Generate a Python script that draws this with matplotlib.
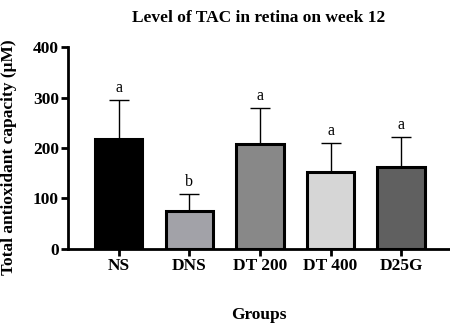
import matplotlib
matplotlib.use("Agg")
import matplotlib.pyplot as plt
import numpy as np


GROUPS = ["NS", "DNS", "DT 200", "DT 400", "D25G"]
MEANS = [218, 76, 208, 152, 163]
SD_UP = [77, 33, 71, 57, 59]
LETTERS = ["a", "b", "a", "a", "a"]
BAR_COLORS = ["#000000", "#a2a2a8", "#888888", "#d6d6d6", "#606060"]
Y_TICKS = [0, 100, 200, 300, 400]


def main():
    plt.rcParams["font.family"] = ["Liberation Serif", "DejaVu Serif"]
    plt.rcParams["axes.unicode_minus"] = False

    fig = plt.figure(figsize=(4.5, 3.25), dpi=100)
    ax = fig.add_axes([0.151, 0.234, 0.847, 0.621])

    x = np.arange(len(GROUPS))
    ax.bar(x, MEANS, width=0.67, color=BAR_COLORS, edgecolor="black",
           linewidth=2.2, zorder=3)
    ax.errorbar(x, MEANS, yerr=[np.zeros(len(SD_UP)), SD_UP], fmt="none",
                ecolor="black", elinewidth=1.0, capsize=7.5, capthick=1.0,
                zorder=2)

    for xi, m, s, letter in zip(x, MEANS, SD_UP, LETTERS):
        ax.annotate(letter, (xi, m + s), xytext=(0, 3), textcoords="offset points",
                    ha="center", va="bottom", fontsize=11.5)

    ax.set_xlim(-0.72, 4.68)
    ax.set_ylim(0, 400)
    ax.set_yticks(Y_TICKS)
    ax.set_xticks(x)
    ax.set_xticklabels(GROUPS)

    for side in ["top", "right"]:
        ax.spines[side].set_visible(False)
    for side in ["left", "bottom"]:
        ax.spines[side].set_linewidth(2.0)

    ax.tick_params(axis="both", width=2.0, length=5, labelsize=12.5, pad=1.5)
    for label in ax.get_xticklabels() + ax.get_yticklabels():
        label.set_fontweight("bold")

    fig.text(0.02, 0.517, "Total antioxidant capacity (μM)", rotation=90,
             ha="center", va="center", fontsize=12.5, fontweight="bold")
    fig.text(0.575, 0.945, "Level of TAC in retina on week 12", ha="center",
             va="center", fontsize=12.5, fontweight="bold")
    fig.text(0.575, 0.031, "Groups", ha="center", va="center",
             fontsize=12.5, fontweight="bold")

    fig.savefig("out.png", dpi=100)
    plt.close(fig)


if __name__ == "__main__":
    main()
